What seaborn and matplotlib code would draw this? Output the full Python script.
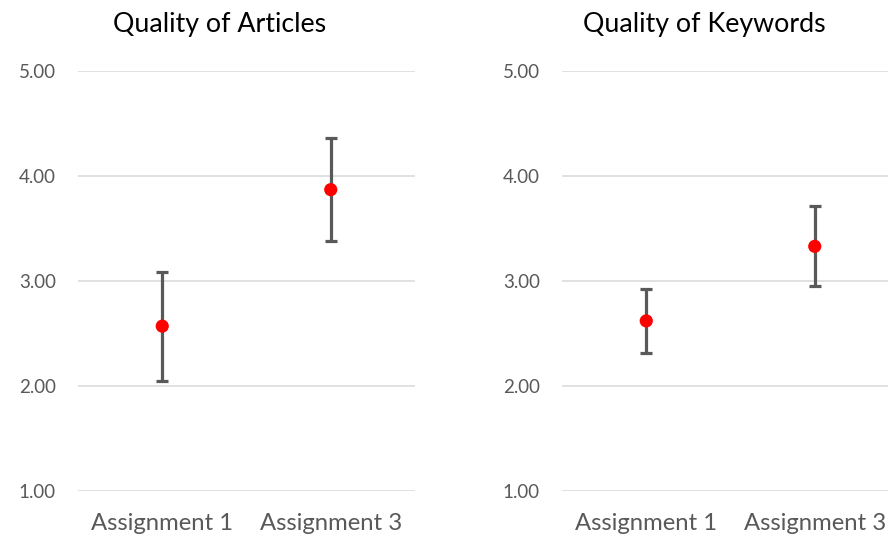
import numpy as np
import pandas as pd
import seaborn as sns
import matplotlib.pyplot as plt

# values
assignments = ['Assignment 1', 'Assignment 3']
article_mean = [2.57, 3.87]
article_low = [2.05, 3.38]
article_high = [3.09, 4.36]
keyword_mean = [2.62, 3.33]
keyword_low = [2.31, 2.95]
keyword_high = [2.92, 3.71]
titles = ['Quality of Articles', 'Quality of Keywords']
y_ticks = [1.0, 2.0, 3.0, 4.0, 5.0]

sns.set_theme(style='white')
plt.rcParams['font.family'] = ['Lato', 'DejaVu Sans']

fig = plt.figure(figsize=(8.88, 5.39), dpi=100)
ax_left = fig.add_axes([78 / 888, 48 / 539, 337 / 888, 420 / 539])
ax_right = fig.add_axes([562 / 888, 48 / 539, 337 / 888, 420 / 539])

panels = [
    (ax_left, article_mean, article_low, article_high, titles[0], 220),
    (ax_right, keyword_mean, keyword_low, keyword_high, titles[1], 704),
]

grey = '#595959'
for ax, means, lows, highs, title, title_x in panels:
    df = pd.DataFrame({'assignment': assignments, 'mean': means, 'low': lows, 'high': highs})
    ax.errorbar(
        x=df['assignment'], y=df['mean'],
        yerr=[df['mean'] - df['low'], df['high'] - df['mean']],
        fmt='none', ecolor=grey, elinewidth=2.3, capsize=4.3, capthick=2.3, zorder=2,
    )
    sns.scatterplot(data=df, x='assignment', y='mean', color='#ff0000', s=90,
                    edgecolor='none', zorder=3, ax=ax)
    ax.set_xlim(-0.5, 1.5)
    ax.set_ylim(1.0, 5.0)
    ax.set_yticks(y_ticks)
    ax.set_yticklabels([f'{v:.2f}' for v in y_ticks])
    ax.yaxis.grid(True, color='#d9d9d9', linewidth=1.1)
    ax.set_axisbelow(True)
    for s in ax.spines.values():
        s.set_visible(False)
    ax.tick_params(axis='both', length=0, colors=grey)
    ax.tick_params(axis='y', labelsize=13.5, pad=16)
    ax.tick_params(axis='x', labelsize=17.2, pad=16)
    ax.set_xlabel('')
    ax.set_ylabel('')
    fig.text(title_x / 888, 1 - 32 / 539, title, ha='center', va='baseline',
             fontsize=19.3, color='black')

fig.savefig('out.png', dpi=100)
